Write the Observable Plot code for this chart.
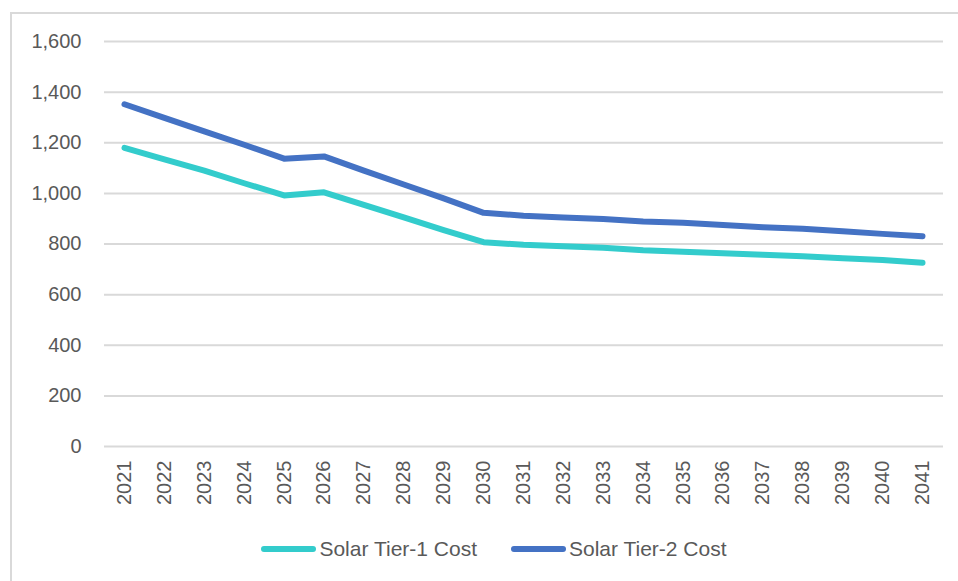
<!DOCTYPE html>
<html>
<head>
<meta charset="utf-8">
<script src="https://cdn.jsdelivr.net/npm/d3@7"></script>
<script src="https://cdn.jsdelivr.net/npm/@observablehq/plot@0.6"></script>
<style>
  html, body { margin: 0; padding: 0; background: #fff; overflow: hidden; }
  #frame { position: absolute; left: 10px; top: 12px; width: 2000px; height: 2000px;
           border-left: 2px solid #d9d9d9; border-top: 2px solid #d9d9d9; pointer-events: none; }
  #chart { position: absolute; left: 0; top: 0; }
  #legend { position: absolute; left: 0; top: 537px; width: 988px; display: flex; justify-content: center;
            align-items: center; font-family: "Liberation Sans", Arial, sans-serif; font-size: 21px; color: #595959; }
  .item { display: flex; align-items: center; margin: 0 17px; }
  .sw { width: 55px; height: 6px; border-radius: 3px; margin-right: 3px; }
</style>
</head>
<body>
<div id="frame"></div>
<div id="chart"></div>
<div id="legend"></div>
<script>
const years = [2021, 2022, 2023, 2024, 2025, 2026, 2027, 2028, 2029, 2030, 2031, 2032, 2033, 2034, 2035, 2036, 2037, 2038, 2039, 2040, 2041];
const tier1 = [1180, 1134, 1090, 1040, 992, 1004, 955, 905, 855, 807, 797, 791, 785, 775, 769, 763, 758, 752, 744, 737, 726];
const tier2 = [1352, 1298, 1245, 1192, 1137, 1146, 1090, 1035, 980, 923, 912, 905, 899, 889, 884, 875, 866, 860, 850, 840, 831];
const seriesNames = ["Solar Tier-1 Cost", "Solar Tier-2 Cost"];
const seriesColors = ["#33CCCC", "#4472C4"];
const yTicks = [0, 200, 400, 600, 800, 1000, 1200, 1400, 1600];

const data = [];
years.forEach((y, i) => {
  data.push({year: y, value: tier1[i], series: seriesNames[0]});
  data.push({year: y, value: tier2[i], series: seriesNames[1]});
});

const chart = Plot.plot({
  width: 958,
  height: 530,
  marginTop: 41,
  marginBottom: 84,
  marginLeft: 104,
  marginRight: 15,
  style: {fontFamily: "Liberation Sans, Arial, sans-serif", fontSize: "20px", color: "#595959", background: "transparent"},
  x: {type: "linear", domain: [2021, 2041], range: [124, 922]},
  y: {domain: [0, 1600]},
  color: {domain: seriesNames, range: seriesColors},
  marks: [
    Plot.gridY(yTicks, {stroke: "#d9d9d9", strokeOpacity: 1, strokeWidth: 2}),
    Plot.axisY(yTicks, {tickSize: 0, tickPadding: 23, tickFormat: d3.format(","), label: null, fill: "#595959"}),
    Plot.axisX(years, {tickSize: 0, tickPadding: 14, tickRotate: -90, tickFormat: d => String(d), label: null, fill: "#595959"}),
    Plot.line(data, {x: "year", y: "value", z: "series", stroke: "series", strokeWidth: 6, strokeLinecap: "round", strokeLinejoin: "round"})
  ]
});
document.getElementById("chart").appendChild(chart);

const legend = document.getElementById("legend");
seriesNames.forEach((n, i) => {
  const it = document.createElement("div");
  it.className = "item";
  const sw = document.createElement("div");
  sw.className = "sw";
  sw.style.background = seriesColors[i];
  const t = document.createElement("span");
  t.textContent = n;
  it.appendChild(sw);
  it.appendChild(t);
  legend.appendChild(it);
});
</script>
</body>
</html>
